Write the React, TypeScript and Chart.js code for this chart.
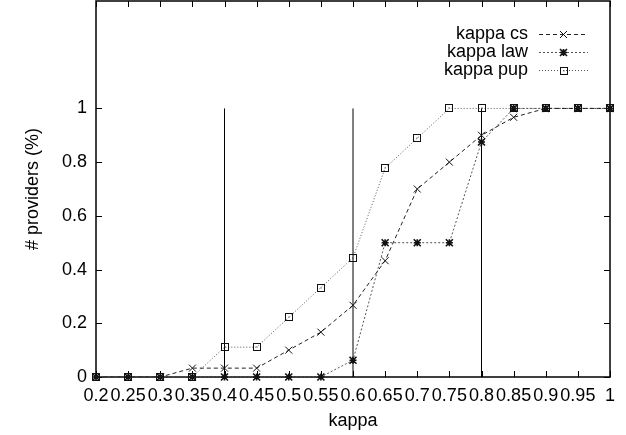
import React, { useEffect, useRef } from "react";
import { Chart, registerables } from "chart.js";

Chart.register(...registerables);

const kappa = [0.2, 0.25, 0.3, 0.35, 0.4, 0.45, 0.5, 0.55, 0.6, 0.65, 0.7, 0.75, 0.8, 0.85, 0.9, 0.95, 1.0];
const kappaCs = [0, 0, 0, 0.033, 0.033, 0.033, 0.1, 0.167, 0.267, 0.433, 0.7, 0.8, 0.9, 0.967, 1, 1, 1];
const kappaLaw = [0, 0, 0, 0, 0, 0, 0, 0, 0.0625, 0.5, 0.5, 0.5, 0.875, 1, 1, 1, 1];
const kappaPup = [0, 0, 0, 0, 0.111, 0.111, 0.222, 0.333, 0.444, 0.778, 0.889, 1, 1, 1, 1, 1, 1];
const vlineX = [0.4, 0.6, 0.8];
const vlineTop = 1;
const xTicks = [0.2, 0.25, 0.3, 0.35, 0.4, 0.45, 0.5, 0.55, 0.6, 0.65, 0.7, 0.75, 0.8, 0.85, 0.9, 0.95, 1];
const yTicks = [0, 0.2, 0.4, 0.6, 0.8, 1];
const seriesNames = ["kappa cs", "kappa law", "kappa pup"];
const xTitle = "kappa";
const yTitle = "# providers (%)";

const FONT = "Liberation Sans, Arial, Helvetica, sans-serif";

const fmt = (v: number) => String(Math.round(v * 100) / 100);

const styles = [
  { color: "#222", dash: [4, 3], marker: "x" },
  { color: "#555", dash: [2, 2], marker: "star" },
  { color: "#555", dash: [1, 2], marker: "box" },
];

function drawText(ctx: CanvasRenderingContext2D, text: string, x: number, y: number, align: CanvasTextAlign) {
  ctx.save();
  ctx.textAlign = align;
  ctx.textBaseline = "middle";
  ctx.fillText(text, x, y);
  ctx.restore();
}

function drawMarker(ctx: CanvasRenderingContext2D, kind: string, x: number, y: number) {
  ctx.save();
  ctx.setLineDash([]);
  ctx.strokeStyle = "#111";
  ctx.lineWidth = 1;
  const r = 3.5;
  ctx.beginPath();
  if (kind === "x" || kind === "star") {
    ctx.moveTo(x - r, y - r);
    ctx.lineTo(x + r, y + r);
    ctx.moveTo(x - r, y + r);
    ctx.lineTo(x + r, y - r);
  }
  if (kind === "star") {
    ctx.moveTo(x - r, y);
    ctx.lineTo(x + r, y);
    ctx.moveTo(x, y - r);
    ctx.lineTo(x, y + r);
    ctx.lineWidth = 1.6;
  }
  ctx.stroke();
  if (kind === "box") {
    const rx = Math.round(x) - 3.5;
    const ry = Math.round(y) - 3.5;
    ctx.strokeRect(rx, ry, 7, 7);
    ctx.fillStyle = "#333";
    ctx.fillRect(Math.round(x) - 0.5, Math.round(y) - 0.5, 1, 1);
  }
  ctx.restore();
}

export default function App() {
  const ref = useRef<HTMLCanvasElement | null>(null);
  useEffect(() => {
    document.body.style.margin = "0";
    const canvas = ref.current!;
    const series = [kappaCs, kappaLaw, kappaPup];
    const datasets: any[] = series.map((vals, i) => ({
      label: seriesNames[i],
      data: kappa.map((x, j) => ({ x, y: vals[j] })),
      borderColor: styles[i].color,
      borderWidth: 1,
      borderDash: styles[i].dash,
      pointRadius: 0,
      fill: false,
      tension: 0,
    }));
    vlineX.forEach((x) => {
      datasets.push({
        label: "",
        data: [
          { x, y: 0 },
          { x, y: vlineTop },
        ],
        borderColor: "#000",
        borderWidth: 1,
        pointRadius: 0,
        fill: false,
      });
    });

    const framePlugin = {
      id: "frame",
      beforeDatasetsDraw(chart: any) {
        const { ctx, chartArea: a, scales } = chart;
        ctx.save();
        ctx.strokeStyle = "#000";
        ctx.lineWidth = 1;
        ctx.setLineDash([]);
        ctx.beginPath();
        xTicks.forEach((v) => {
          const px = Math.round(scales.x.getPixelForValue(v)) + 0.5;
          ctx.moveTo(px, a.bottom);
          ctx.lineTo(px, a.bottom - 6);
          ctx.moveTo(px, a.top);
          ctx.lineTo(px, a.top + 6);
        });
        yTicks.forEach((v) => {
          const py = Math.round(scales.y.getPixelForValue(v)) + 0.5;
          ctx.moveTo(a.left, py);
          ctx.lineTo(a.left + 6, py);
          ctx.moveTo(a.right, py);
          ctx.lineTo(a.right - 6, py);
        });
        ctx.stroke();
        ctx.lineWidth = 1.5;
        ctx.strokeRect(a.left, a.top, a.right - a.left, a.bottom - a.top);
        ctx.restore();
      },
      afterDatasetsDraw(chart: any) {
        const { ctx } = chart;
        for (let i = 0; i < 3; i++) {
          const meta = chart.getDatasetMeta(i);
          meta.data.forEach((el: any) => drawMarker(ctx, styles[i].marker, el.x, el.y));
        }
      },
      afterDraw(chart: any) {
        const { ctx, chartArea: a, scales } = chart;
        ctx.save();
        ctx.fillStyle = "#000";
        ctx.font = `18px ${FONT}`;
        xTicks.forEach((v) => {
          drawText(ctx, fmt(v), scales.x.getPixelForValue(v), 396, "center");
        });
        yTicks.forEach((v) => {
          drawText(ctx, fmt(v), 87, scales.y.getPixelForValue(v), "right");
        });
        drawText(ctx, xTitle, (a.left + a.right) / 2, 421, "center");
        ctx.save();
        ctx.translate(33, (a.top + a.bottom) / 2);
        ctx.rotate(-Math.PI / 2);
        drawText(ctx, yTitle, 0, 0, "center");
        ctx.restore();

        const rows = [34, 52, 70];
        seriesNames.forEach((name, i) => {
          const y = rows[i];
          ctx.fillStyle = "#000";
          drawText(ctx, name, 528, y, "right");
          ctx.save();
          ctx.strokeStyle = styles[i].color;
          ctx.lineWidth = 1;
          ctx.setLineDash(styles[i].dash);
          ctx.beginPath();
          ctx.moveTo(539, y + 0.5);
          ctx.lineTo(588, y + 0.5);
          ctx.stroke();
          ctx.restore();
          drawMarker(ctx, styles[i].marker, 563.5, y + 0.5);
        });
        ctx.restore();
      },
    };

    const chart = new Chart(canvas, {
      type: "line",
      data: { datasets },
      options: {
        responsive: false,
        animation: false,
        devicePixelRatio: 1,
        layout: { padding: { top: 1, right: 16, left: 0, bottom: 0 } },
        plugins: { legend: { display: false }, tooltip: { enabled: false } },
        scales: {
          x: {
            type: "linear",
            min: 0.2,
            max: 1,
            grid: { display: false, drawTicks: false },
            border: { display: false },
            afterBuildTicks: (s: any) => {
              s.ticks = xTicks.map((v) => ({ value: v }));
            },
            afterFit: (s: any) => {
              s.height = 58;
              s.paddingLeft = 0;
              s.paddingRight = 0;
            },
            ticks: { display: false },
          },
          y: {
            type: "linear",
            min: 0,
            max: 1.4,
            grid: { display: false, drawTicks: false },
            border: { display: false },
            afterBuildTicks: (s: any) => {
              s.ticks = yTicks.map((v) => ({ value: v }));
            },
            afterFit: (s: any) => {
              s.width = 96;
              s.paddingTop = 0;
              s.paddingBottom = 0;
            },
            ticks: { display: false },
          },
        },
      } as any,
      plugins: [framePlugin],
    });
    return () => chart.destroy();
  }, []);
  return <canvas ref={ref} width={626} height={435} style={{ display: "block" }} />;
}
